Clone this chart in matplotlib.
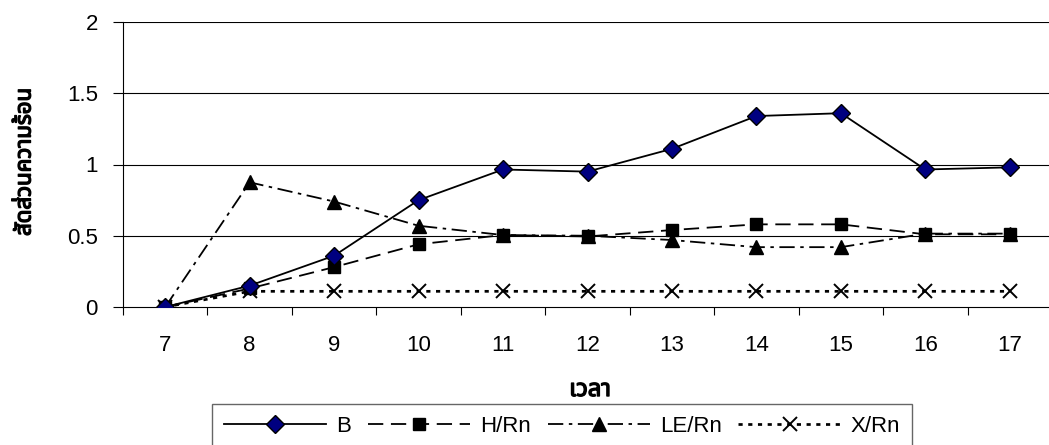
import numpy as np
import matplotlib
matplotlib.use("Agg")
import matplotlib.pyplot as plt
import matplotlib.patheffects as pe
from matplotlib import font_manager
from matplotlib.ft2font import FT2Font

# hourly heat ratios
hours = [7, 8, 9, 10, 11, 12, 13, 14, 15, 16, 17]
b_vals = [0.0, 0.15, 0.36, 0.75, 0.965, 0.95, 1.11, 1.34, 1.36, 0.965, 0.98]
h_rn = [0.0, 0.13, 0.28, 0.44, 0.505, 0.495, 0.54, 0.58, 0.58, 0.51, 0.51]
le_rn = [0.0, 0.875, 0.74, 0.57, 0.505, 0.5, 0.47, 0.42, 0.42, 0.515, 0.515]
x_rn = [0.0, 0.11, 0.11, 0.11, 0.11, 0.11, 0.11, 0.11, 0.11, 0.11, 0.11]

y_ticks = [0, 0.5, 1, 1.5, 2]
y_tick_labels = ["0", "0.5", "1", "1.5", "2"]
x_title = "เวลา"
y_title = "สัดส่วนความร้อน"


def find_thai_font():
    """Return the name of an installed font that has Thai glyphs."""
    preferred = ["Noto Sans Thai", "Noto Sans Thai UI", "Tahoma", "Loma",
                 "Garuda", "Waree", "Tlwg Typo", "Norasi", "Kinnari"]
    names = {f.name for f in font_manager.fontManager.ttflist}
    for name in preferred:
        if name in names:
            return name
    for f in font_manager.fontManager.ttflist:
        try:
            if 0x0E2A in FT2Font(f.fname).get_charmap():
                return f.name
        except Exception:
            continue
    return "DejaVu Sans"


thai_font = find_thai_font()
plt.rcParams["font.family"] = ["Liberation Sans", "DejaVu Sans"]
plt.rcParams["lines.scale_dashes"] = False

W, H = 1049, 445
fig = plt.figure(figsize=(W / 100, H / 100), dpi=100)
ax = fig.add_axes([123 / W, (H - 307) / H, (1052 - 123) / W, (307 - 22) / H])

x = np.arange(len(hours))
lw = 1.3
ax.plot(x, b_vals, color="black", lw=lw, marker="D", markersize=9,
        markerfacecolor="#000080", markeredgecolor="black",
        markeredgewidth=1.0, label="B", zorder=5)
ax.plot(x, h_rn, color="black", lw=lw, linestyle=(0, (11, 5.5)),
        marker="s", markersize=8, markerfacecolor="black",
        markeredgecolor="black", label="H/Rn", zorder=4)
ax.plot(x, le_rn, color="black", lw=lw, linestyle=(0, (11, 4, 2.5, 4)),
        marker="^", markersize=10, markerfacecolor="black",
        markeredgecolor="black", label="LE/Rn", zorder=4)
ax.plot(x, x_rn, color="black", lw=lw * 1.5, linestyle=(0, (3, 4)),
        marker="x", markersize=10, markeredgewidth=1.4,
        label="X/Rn", zorder=3)

ax.set_xlim(-0.5, len(hours) - 0.5)
ax.set_ylim(0, 2)

# horizontal gridlines at each major y tick
for yv in y_ticks[1:]:
    ax.axhline(yv, color="black", lw=0.8, zorder=1)

ax.set_yticks(y_ticks)
ax.set_yticklabels(y_tick_labels, fontsize=16)
ax.set_xticks(x)
ax.set_xticklabels([str(h) for h in hours], fontsize=16)
ax.tick_params(axis="x", which="major", length=0, pad=20)
ax.set_xticks(np.arange(-0.5, len(hours)), minor=True)
ax.tick_params(axis="x", which="minor", length=6, width=0.8, direction="out")
ax.tick_params(axis="y", length=7, width=0.8, direction="out", pad=11)

for side in ["top", "right"]:
    ax.spines[side].set_visible(False)
for side in ["left", "bottom"]:
    ax.spines[side].set_linewidth(0.8)

bold = [pe.withStroke(linewidth=1.0, foreground="black")]
fig.text(590 / W, 1 - 390 / H, x_title, family=[thai_font, "DejaVu Sans"],
         fontsize=17, fontweight="bold", ha="center", va="center",
         path_effects=bold)
fig.text(25 / W, 1 - 162 / H, y_title, family=[thai_font, "DejaVu Sans"],
         fontsize=16, fontweight="bold", ha="center", va="center",
         rotation=90, path_effects=bold)

leg = fig.legend(loc="upper left", bbox_to_anchor=(212 / W, 1 - 404 / H),
                 ncol=4, fontsize=16, frameon=True, fancybox=False,
                 handlelength=4.6, handletextpad=0.45, columnspacing=0.75,
                 borderpad=0.55, borderaxespad=0)
leg.get_frame().set_edgecolor("#404040")
leg.get_frame().set_linewidth(1.0)

fig.savefig("out.png", dpi=100)
